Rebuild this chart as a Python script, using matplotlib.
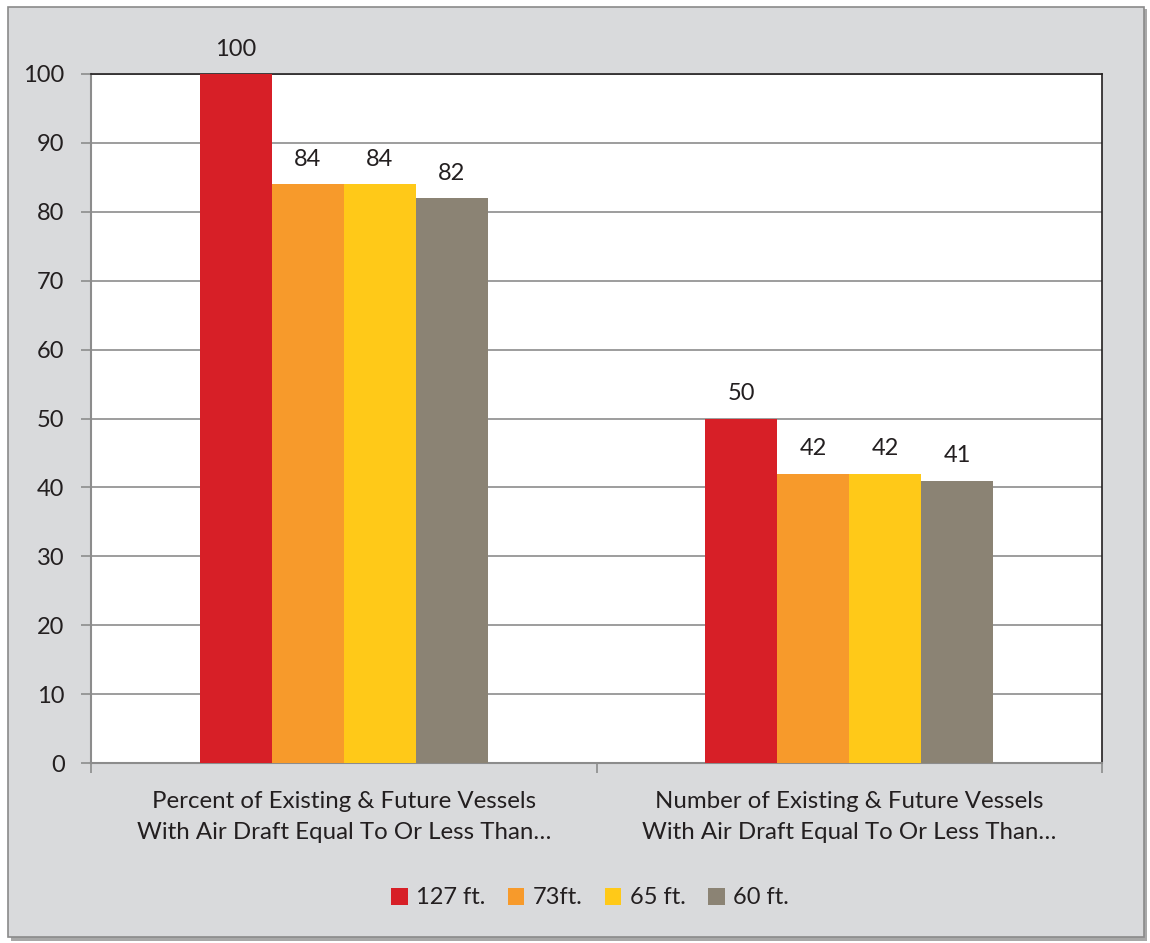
import matplotlib
matplotlib.use("Agg")
import matplotlib.pyplot as plt
from matplotlib.patches import Rectangle
import numpy as np

categories = ["Percent of Existing & Future Vessels\nWith Air Draft Equal To Or Less Than…",
              "Number of Existing & Future Vessels\nWith Air Draft Equal To Or Less Than…"]
series_names = ["127 ft.", "73ft.", "65 ft.", "60 ft."]
values = [[100, 50], [84, 42], [84, 42], [82, 41]]
colors = ["#d71f27", "#f79a2b", "#ffc918", "#8b8374"]
yticks = [0, 10, 20, 30, 40, 50, 60, 70, 80, 90, 100]

plt.rcParams['font.family'] = ['Lato', 'DejaVu Sans']
W, H = 1150, 943
fig = plt.figure(figsize=(W/100, H/100), dpi=100)
fig.patch.set_facecolor("white")

# panel shadow and panel
fig.patches.append(Rectangle((11/W, 1-941/H), 1136/W, 932/H, transform=fig.transFigure,
                             facecolor="#a8a8a8", edgecolor="none", zorder=-3))
fig.patches.append(Rectangle((8/W, 1-937/H), 1136/W, 930/H, transform=fig.transFigure,
                             facecolor="#d9dadc", edgecolor="#8a8a8a", linewidth=1.2, zorder=-2))

ax = fig.add_axes([91/W, 1-763/H, (1102-91)/W, (763-74)/H])
ax.set_zorder(1)
ax.set_facecolor("white")

fs = 17
x = np.arange(len(categories))
bw = 0.1425
for i, (name, vals, c) in enumerate(zip(series_names, values, colors)):
    pos = x + (i - 1.5) * bw
    bars = ax.bar(pos, vals, width=bw, color=c, label=name, zorder=3)
    for b, v in zip(bars, vals):
        ax.text(b.get_x() + b.get_width()/2, v + 2.1, f"{v}", ha="center", va="bottom",
                fontsize=fs, color="#231f20")

ax.set_xlim(-0.5, 1.5)
ax.set_ylim(0, 100)
ax.set_yticks(yticks)
ax.set_yticklabels([str(t) for t in yticks], fontsize=fs, color="#231f20")
ax.yaxis.grid(True, color="#8c8c8c", linewidth=1.2, zorder=0)
ax.set_axisbelow(True)

ax.set_xticks([-0.5, 0.5, 1.5])
ax.set_xticklabels([])
ax.set_xticks(x, minor=True)
ax.set_xticklabels(categories, minor=True, fontsize=17.3, color="#231f20", linespacing=1.6)
ax.tick_params(axis="x", which="minor", length=0, pad=20)
ax.tick_params(axis="x", which="major", length=7, width=1.2, color="#8c8c8c", direction="out")
ax.tick_params(axis="y", length=7, width=1.2, color="#8c8c8c", direction="out", pad=12)

for s in ["left", "bottom"]:
    ax.spines[s].set_color("#8c8c8c")
    ax.spines[s].set_linewidth(1.5)
for s in ["top", "right"]:
    ax.spines[s].set_color("#231f20")
    ax.spines[s].set_linewidth(1.2)

leg = fig.legend(loc="center", bbox_to_anchor=(590/W, 1-898/H), ncol=4, frameon=False,
                 fontsize=fs, handlelength=0.7, handleheight=0.7, handletextpad=0.35,
                 columnspacing=0.95)
for t in leg.get_texts():
    t.set_color("#231f20")

fig.savefig("out.png", dpi=100, facecolor=fig.get_facecolor())
